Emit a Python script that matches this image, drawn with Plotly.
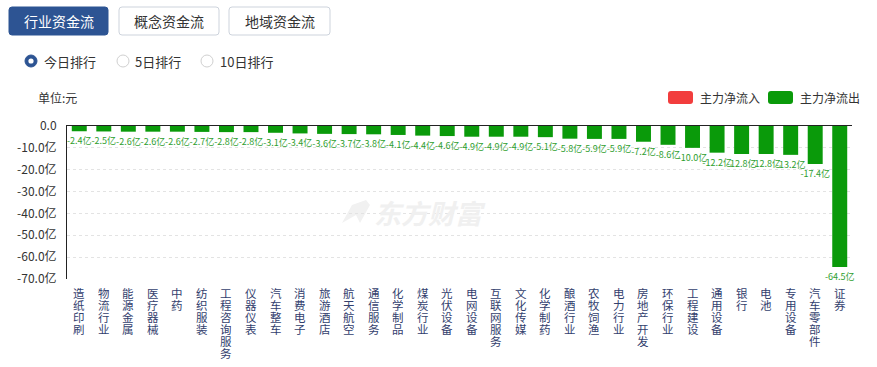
import plotly.graph_objects as go

categories = ["造纸印刷", "物流行业", "能源金属", "医疗器械", "中药", "纺织服装", "工程咨询服务", "仪器仪表",
              "汽车整车", "消费电子", "旅游酒店", "航天航空", "通信服务", "化学制品", "煤炭行业", "光伏设备",
              "电网设备", "互联网服务", "文化传媒", "化学制药", "酿酒行业", "农牧饲渔", "电力行业", "房地产开发",
              "环保行业", "工程建设", "通用设备", "银行", "电池", "专用设备", "汽车零部件", "证券"]
net_outflow = [-2.4, -2.5, -2.6, -2.6, -2.6, -2.7, -2.8, -2.8, -3.1, -3.4, -3.6, -3.7, -3.8, -4.1, -4.4, -4.6,
               -4.9, -4.9, -4.9, -5.1, -5.8, -5.9, -5.9, -7.2, -8.6, -10.0, -12.2, -12.8, -12.8, -13.2, -17.4, -64.5]
y_tickvals = [0, -10, -20, -30, -40, -50, -60, -70]
y_ticktext = ["0.0", "-10.0亿", "-20.0亿", "-30.0亿", "-40.0亿", "-50.0亿", "-60.0亿", "-70.0亿"]
tabs = ["行业资金流", "概念资金流", "地域资金流"]
radios = ["今日排行", "5日排行", "10日排行"]
legend_names = ["主力净流入", "主力净流出"]

FONT = "Noto Sans CJK SC"
GREEN = "#0a9a0a"
RED = "#f23d3d"
BLUE = "#2d5493"
W, H = 877, 367
L, R, T, B = 67, 852, 126, 279
PW, PH = R - L, B - T


def px(x):
    return (x - L) / PW


def py(y):
    return (B - y) / PH


def rrect(x0, y0, x1, y1, r):
    rx, ry = r / PW, r / PH
    a0, a1 = px(x0), px(x1)
    b0, b1 = py(y1), py(y0)  # bottom, top in paper
    return (f"M {a0+rx},{b0} L {a1-rx},{b0} Q {a1},{b0} {a1},{b0+ry} L {a1},{b1-ry} "
            f"Q {a1},{b1} {a1-rx},{b1} L {a0+rx},{b1} Q {a0},{b1} {a0},{b1-ry} L {a0},{b0+ry} "
            f"Q {a0},{b0} {a0+rx},{b0} Z")


fig = go.Figure()
fig.add_trace(go.Bar(
    x=categories, y=net_outflow, marker_color=GREEN, marker_line_width=0,
    text=[f"{v:.1f}亿" for v in net_outflow], textposition="outside", constraintext="none",
    textfont=dict(family=FONT, size=9, color="#2e9e2e"), cliponaxis=False,
    hoverinfo="x+y", showlegend=False,
))

shapes = []
annotations = []

# tabs
tab_boxes = [(9, 108), (119, 219), (229, 330)]
for i, (name, (x0, x1)) in enumerate(zip(tabs, tab_boxes)):
    sel = i == 0
    shapes.append(dict(type="path", xref="paper", yref="paper", path=rrect(x0, 7, x1, 35, 3),
                       fillcolor=BLUE if sel else "white", line=dict(color=BLUE if sel else "#cdd3dc", width=1)))
    annotations.append(dict(xref="paper", yref="paper", x=px((x0 + x1) / 2), y=py(21), text=name,
                            showarrow=False, xanchor="center", yanchor="middle",
                            font=dict(family=FONT, size=14, color="white" if sel else "#333")))

# radios
radio_pos = [(31, 42), (123, 133), (207, 218)]
for i, (name, (cx, tx)) in enumerate(zip(radios, radio_pos)):
    sel = i == 0
    r = 6
    shapes.append(dict(type="circle", xref="paper", yref="paper", x0=px(cx - r), x1=px(cx + r),
                       y0=py(61 + r), y1=py(61 - r), fillcolor=BLUE if sel else "white",
                       line=dict(color=BLUE if sel else "#d0d0d0", width=1)))
    if sel:
        r2 = 2.6
        shapes.append(dict(type="circle", xref="paper", yref="paper", x0=px(cx - r2), x1=px(cx + r2),
                           y0=py(61 + r2), y1=py(61 - r2), fillcolor="white", line=dict(width=0)))
    annotations.append(dict(xref="paper", yref="paper", x=px(tx), y=py(61), text=name, showarrow=False,
                            xanchor="left", yanchor="middle", font=dict(family=FONT, size=13, color="#333")))

# unit
annotations.append(dict(xref="paper", yref="paper", x=px(36), y=py(97), text="单位:元", showarrow=False,
                        xanchor="left", yanchor="middle", font=dict(family=FONT, size=12, color="#333")))

# legend
for name, color, (x0, x1) in zip(legend_names, [RED, GREEN], [(668, 693), (768, 793)]):
    shapes.append(dict(type="path", xref="paper", yref="paper", path=rrect(x0, 91, x1, 104, 3),
                       fillcolor=color, line=dict(width=0)))
    annotations.append(dict(xref="paper", yref="paper", x=px(x1 + 5), y=py(97.5), text=name, showarrow=False,
                            xanchor="left", yanchor="middle", font=dict(family=FONT, size=12, color="#333")))

# watermark (logo mark + text)
logo_pts = [(366, 200), (352, 205), (342, 223), (356, 215), (360, 223), (370, 205)]
logo_path = "M " + " L ".join(f"{px(x)},{py(y)}" for x, y in logo_pts) + " Z"
shapes.append(dict(type="path", xref="paper", yref="paper", path=logo_path, fillcolor="#f1f1f1",
                   line=dict(width=0), layer="below"))
annotations.append(dict(xref="paper", yref="paper", x=px(430), y=py(212), text="<b><i>东方财富</i></b>",
                        showarrow=False, xanchor="center", yanchor="middle",
                        font=dict(family=FONT, size=27, color="#f0f0f0")))

# vertical category labels (one character per line, tight line spacing)
for cat in categories:
    for k, ch in enumerate(cat):
        annotations.append(dict(xref="x", yref="paper", x=cat, y=0, yshift=-(7 + 12 * k), text=ch,
                                showarrow=False, xanchor="center", yanchor="top", height=12, borderpad=0,
                                font=dict(family=FONT, size=11.5, color="#33416e")))

fig.update_layout(
    width=W, height=H, margin=dict(l=L, r=W - R, t=T, b=H - B, autoexpand=False),
    paper_bgcolor="white", plot_bgcolor="white", bargap=0.39,
    shapes=shapes, annotations=annotations,
    xaxis=dict(side="top", showticklabels=False, showline=True, linecolor="#222", linewidth=1,
               showgrid=False, ticks="", fixedrange=True),
    yaxis=dict(range=[-70, 0], tickvals=y_tickvals, ticktext=y_ticktext, showline=True, linecolor="#222",
               linewidth=1, showgrid=True, gridcolor="#e3e3e3", griddash="dot", zeroline=False, ticks="",
               ticklabelstandoff=7, tickfont=dict(family=FONT, size=12, color="#333"), automargin=False),
    font=dict(family=FONT),
)

fig.write_html("out.html", config={"displayModeBar": False},
               post_script="document.body.style.margin='0';document.body.style.padding='0';")
